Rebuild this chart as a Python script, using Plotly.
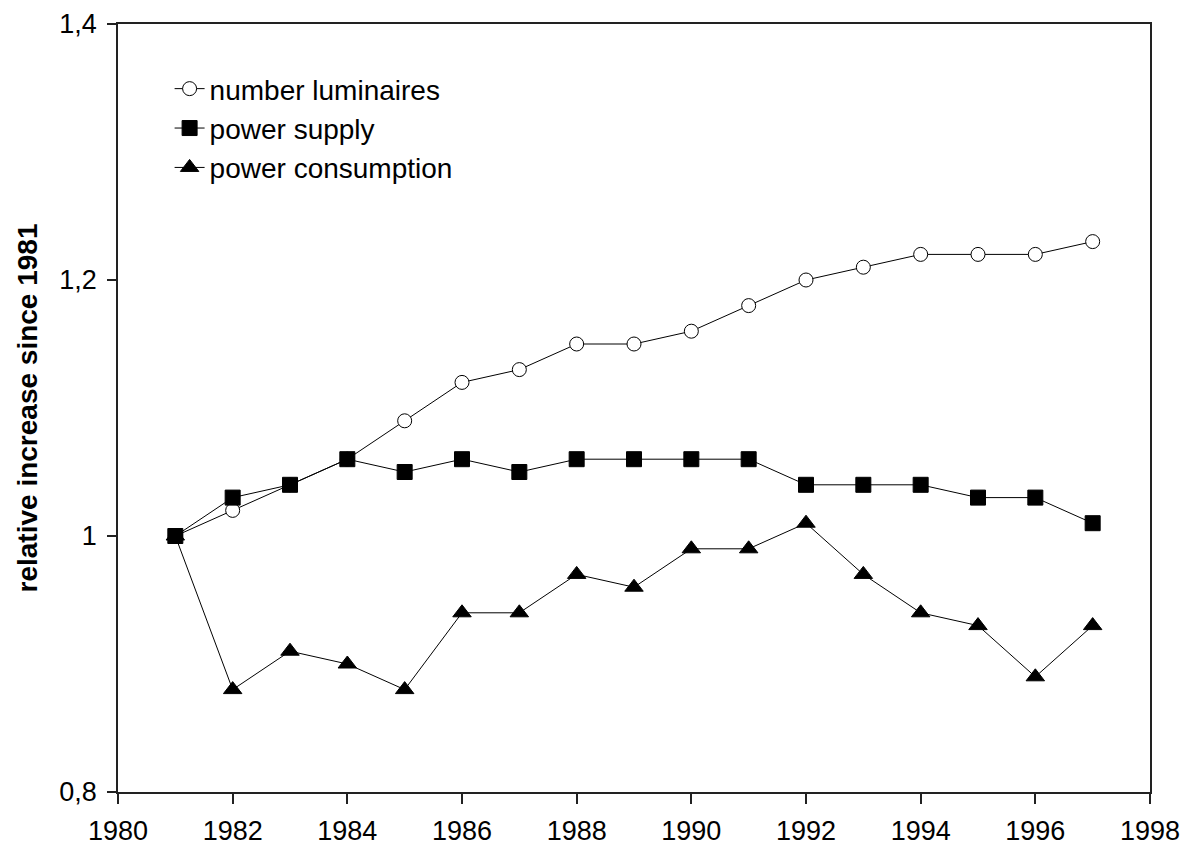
import plotly.graph_objects as go

years = list(range(1981, 1998))
number_luminaires = [1.00, 1.02, 1.04, 1.06, 1.09, 1.12, 1.13, 1.15, 1.15, 1.16, 1.18, 1.20, 1.21, 1.22, 1.22, 1.22, 1.23]
power_supply = [1.00, 1.03, 1.04, 1.06, 1.05, 1.06, 1.05, 1.06, 1.06, 1.06, 1.06, 1.04, 1.04, 1.04, 1.03, 1.03, 1.01]
power_consumption = [1.00, 0.88, 0.91, 0.90, 0.88, 0.94, 0.94, 0.97, 0.96, 0.99, 0.99, 1.01, 0.97, 0.94, 0.93, 0.89, 0.93]

x_ticks = list(range(1980, 1999, 2))
y_tickvals = [0.8, 1.0, 1.2, 1.4]
y_ticktext = ["0,8", "1", "1,2", "1,4"]

font_family = "Liberation Sans, Arial, sans-serif"

fig = go.Figure()
fig.add_trace(go.Scatter(
    x=years, y=number_luminaires, name="number luminaires", mode="lines+markers",
    line=dict(color="black", width=1),
    marker=dict(symbol="circle", size=14, color="white", line=dict(color="black", width=1)),
))
fig.add_trace(go.Scatter(
    x=years, y=power_supply, name="power supply", mode="lines+markers",
    line=dict(color="black", width=1),
    marker=dict(symbol="square", size=15, color="black", line=dict(color="black", width=1)),
))
fig.add_trace(go.Scatter(
    x=years, y=power_consumption, name="power consumption", mode="lines+markers",
    line=dict(color="black", width=1),
    marker=dict(symbol="triangle-up", size=16, color="black", line=dict(color="black", width=1)),
))

fig.update_layout(
    width=1194, height=848,
    margin=dict(l=110, r=52, t=16, b=64),
    paper_bgcolor="white", plot_bgcolor="white",
    font=dict(family=font_family, color="black", size=27),
    showlegend=True,
    legend=dict(x=0.05, y=0.948, xanchor="left", yanchor="top",
                font=dict(size=28, family=font_family), bgcolor="rgba(0,0,0,0)",
                tracegroupgap=0),
    xaxis=dict(range=[1980, 1998], tickvals=x_ticks, ticks="outside", ticklen=10,
               tickcolor="#222", tickwidth=1.5, showgrid=False, zeroline=False,
               showline=True, linecolor="#222", linewidth=1.5, mirror=True,
               tickfont=dict(size=27), automargin=False, ticklabelstandoff=4),
    yaxis=dict(range=[0.8, 1.4], tickvals=y_tickvals, ticktext=y_ticktext,
               ticks="outside", ticklen=9, tickcolor="#222", tickwidth=1.5,
               showgrid=False, zeroline=False, showline=True, linecolor="#222",
               linewidth=1.5, mirror=True, tickfont=dict(size=27), automargin=False,
               ticklabelstandoff=5,
               title=dict(text="<b>relative increase since 1981</b>", font=dict(size=28), standoff=14)),
)

fig.write_html("out.html")
